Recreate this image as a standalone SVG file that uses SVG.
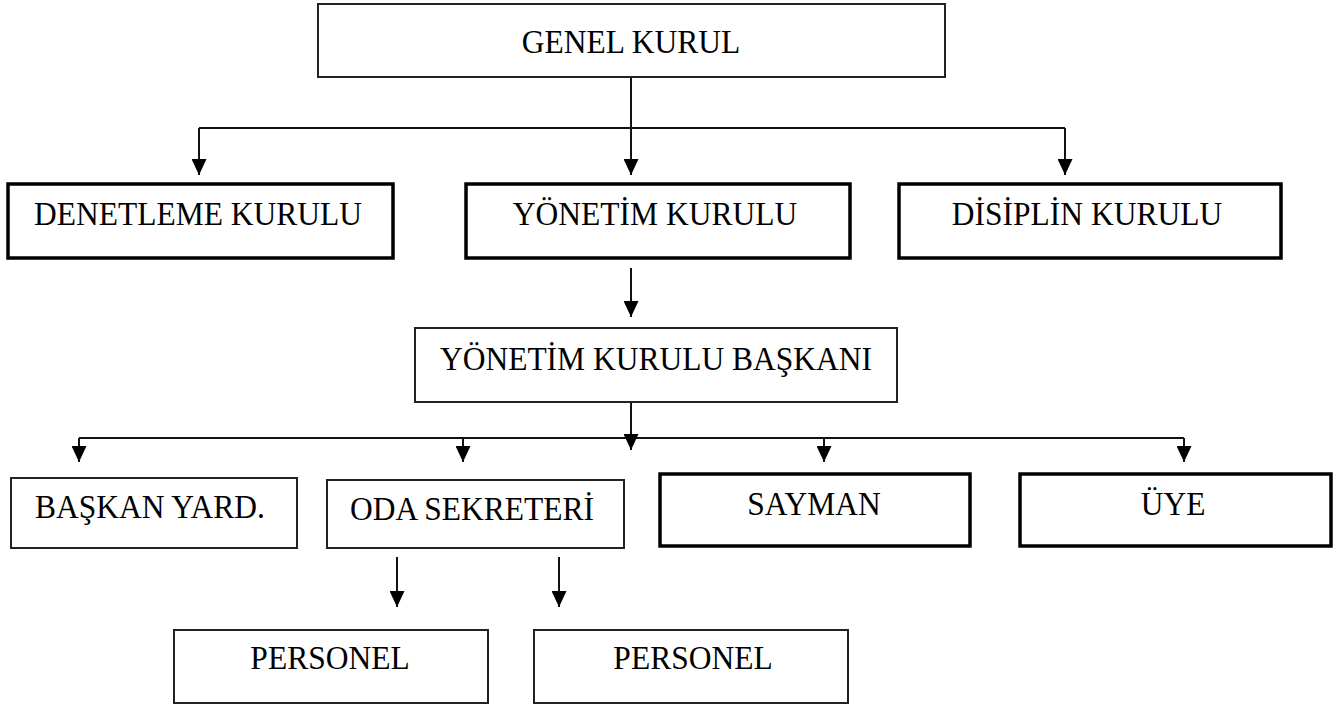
<svg xmlns="http://www.w3.org/2000/svg" width="1337" height="706" viewBox="0 0 1337 706">
<style>
  .thin { fill: #fff; stroke: #222; stroke-width: 2; }
  .thick { fill: #fff; stroke: #000; stroke-width: 3.5; }
  .lbl { font-family: "Liberation Serif", "Times New Roman", serif; font-size: 31.5px; fill: #000; text-anchor: middle; }
  .con { fill: none; stroke: #111; stroke-width: 2; }
  .arr { fill: none; stroke: #111; stroke-width: 2; marker-end: url(#ah); }
</style>
<defs>
  <marker id="ah" markerUnits="userSpaceOnUse" markerWidth="16" markerHeight="15" refX="16" refY="7.5" orient="auto">
    <path d="M0,0 L16,7.5 L0,15 z" fill="#000"/>
  </marker>
</defs>
<rect width="1337" height="706" fill="#fff"/>
<g id="connectors">
  <path class="con" d="M199,128 H1065"/>
  <path class="arr" d="M631,77 V175"/>
  <path class="arr" d="M199,128 V175"/>
  <path class="arr" d="M1065,128 V175"/>
  <path class="arr" d="M631,268 V317"/>
  <path class="con" d="M79,438 H1184"/>
  <path class="arr" d="M631,402 V450"/>
  <path class="arr" d="M79,438 V462"/>
  <path class="arr" d="M463,438 V462"/>
  <path class="arr" d="M824,438 V462"/>
  <path class="arr" d="M1184,438 V462"/>
  <path class="arr" d="M397,557 V607"/>
  <path class="arr" d="M559,557 V607"/>
</g>
<g id="genel-kurul"><rect class="thin" x="318" y="4" width="627" height="73"/><text class="lbl" transform="translate(631,53) scale(1,1.1)">GENEL KURUL</text></g>
<g id="denetleme-kurulu"><rect class="thick" x="8" y="184" width="385" height="74"/><text class="lbl" transform="translate(198,225) scale(1,1.1)">DENETLEME KURULU</text></g>
<g id="yonetim-kurulu"><rect class="thick" x="466" y="184" width="384" height="74"/><text class="lbl" transform="translate(655,225) scale(1,1.1)">YÖNETİM KURULU</text></g>
<g id="disiplin-kurulu"><rect class="thick" x="899" y="184" width="382" height="74"/><text class="lbl" transform="translate(1087,225) scale(1,1.1)">DİSİPLİN KURULU</text></g>
<g id="yonetim-kurulu-baskani"><rect class="thin" x="415" y="328" width="482" height="74"/><text class="lbl" transform="translate(656,370) scale(1,1.1)">YÖNETİM KURULU BAŞKANI</text></g>
<g id="baskan-yard"><rect class="thin" x="11" y="478" width="286" height="70"/><text class="lbl" transform="translate(150,518) scale(1,1.1)">BAŞKAN YARD.</text></g>
<g id="oda-sekreteri"><rect class="thin" x="327" y="480" width="297" height="68"/><text class="lbl" transform="translate(472,520) scale(1,1.1)">ODA SEKRETERİ</text></g>
<g id="sayman"><rect class="thick" x="660" y="474" width="310" height="72"/><text class="lbl" transform="translate(814,515) scale(1,1.1)">SAYMAN</text></g>
<g id="uye"><rect class="thick" x="1020" y="474" width="311" height="72"/><text class="lbl" transform="translate(1173,515) scale(1,1.1)">ÜYE</text></g>
<g id="personel-1"><rect class="thin" x="174" y="630" width="314" height="73"/><text class="lbl" transform="translate(330,669) scale(1,1.1)">PERSONEL</text></g>
<g id="personel-2"><rect class="thin" x="534" y="630" width="314" height="73"/><text class="lbl" transform="translate(693,669) scale(1,1.1)">PERSONEL</text></g>
</svg>
